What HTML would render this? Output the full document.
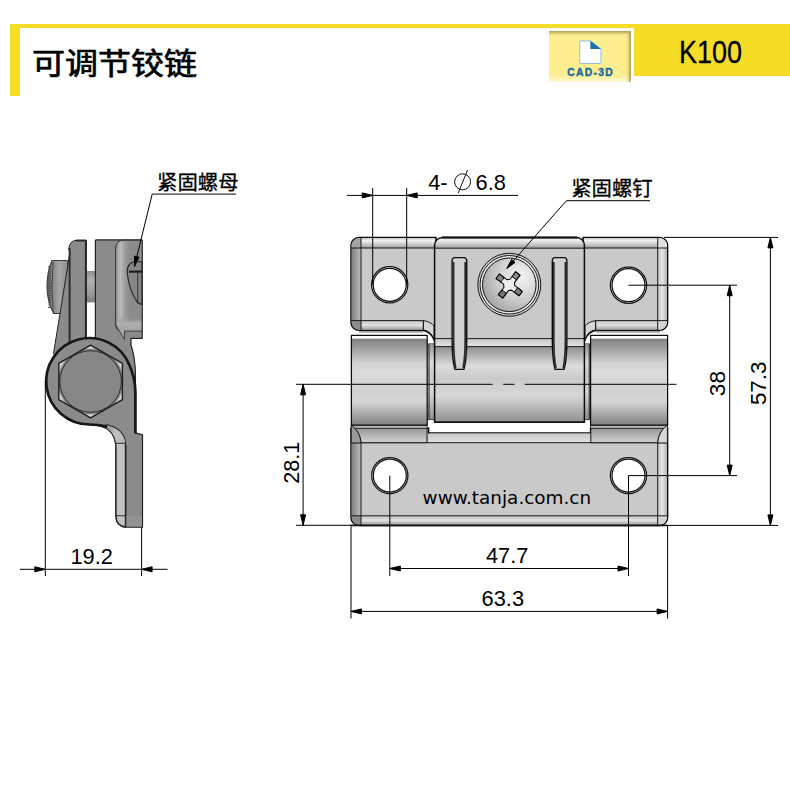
<!DOCTYPE html>
<html lang="zh-CN">
<head>
<meta charset="utf-8">
<title>可调节铰链 K100</title>
<style>
html,body{margin:0;padding:0;background:#fff}
body{width:790px;height:790px;overflow:hidden;position:relative;font-family:"Liberation Sans","Noto Sans CJK SC",sans-serif;color:#000}
.hdr-line{position:absolute;left:10px;top:24px;width:780px;height:4px;background:#f5dc27}
.hdr-bar{position:absolute;left:10px;top:24px;width:9.5px;height:71.5px;background:#f5dc27}
.title{position:absolute;left:32px;top:41.6px;font-size:29.6px;line-height:44px;white-space:nowrap;transform:scaleX(1.115);transform-origin:0 0;-webkit-text-stroke:0.7px #000}
.code{position:absolute;left:634px;top:24px;width:156px;height:52px;background:#f5dc27}
.code span{position:absolute;left:0;right:3px;top:0;text-align:center;font-size:32px;line-height:57px;transform:scaleX(0.845);-webkit-text-stroke:0.3px #000}
.cad{position:absolute;left:549px;top:31px;width:82px;height:51px;background:linear-gradient(to bottom,#fdee8f 0,#fdee8f 86%,#fff9d8 100%);box-shadow:inset -3px 3px 3px -1px rgba(120,110,40,0.62)}
.cad span{position:absolute;left:0;right:0;top:36.6px;text-align:center;font-size:10.3px;line-height:10px;font-weight:bold;color:#1468a6;letter-spacing:1.35px;text-indent:1.3px;-webkit-text-stroke:0.35px #1468a6}
.cad svg{position:absolute;left:29.6px;top:9px}
svg.draw{position:absolute;left:0;top:0}
svg.draw text{font-family:"Liberation Sans","Noto Sans CJK SC",sans-serif;fill:#000}
</style>
</head>
<body>
<div class="hdr-line"></div>
<div class="hdr-bar"></div>
<div class="title">可调节铰链</div>
<div class="cad"><svg width="23" height="24.3" viewBox="0 0 23 25" preserveAspectRatio="none"><path d="M1.7 0.9H11.4L22 9.2V23.2Q22 24.2 21 24.2H1.7Q0.7 24.2 0.7 23.2V1.9Q0.7 0.9 1.7 0.9Z" fill="#fff" stroke="#8fbdd8" stroke-width="1"/><path d="M11.4 0.9L22 9.2H11.4Z" fill="#1a72ad"/></svg><span>CAD-3D</span></div>
<div class="code"><span>K100</span></div>
<svg class="draw" width="790" height="790" viewBox="0 0 790 790">
<defs>
<linearGradient id="gCyl" x1="0" y1="0" x2="0" y2="1">
<stop offset="0" stop-color="#ffffff"/><stop offset="0.028" stop-color="#ffffff"/><stop offset="0.045" stop-color="#828282"/><stop offset="0.12" stop-color="#989898"/><stop offset="0.3" stop-color="#d0d0d0"/><stop offset="0.42" stop-color="#dcdcdc"/><stop offset="0.6" stop-color="#d0d0d0"/><stop offset="0.74" stop-color="#d6d6d6"/><stop offset="0.87" stop-color="#aaaaaa"/><stop offset="1" stop-color="#808080"/>
</linearGradient>
<linearGradient id="gCyl2" x1="0" y1="0" x2="0" y2="1">
<stop offset="0" stop-color="#8e8e8e"/><stop offset="0.25" stop-color="#dcdcdc"/><stop offset="0.42" stop-color="#cacaca"/><stop offset="0.65" stop-color="#d8d8d8"/><stop offset="1" stop-color="#8e8e8e"/>
</linearGradient>
<linearGradient id="gTop" x1="0" y1="0" x2="0" y2="1">
<stop offset="0" stop-color="#c8c8c8"/><stop offset="0.25" stop-color="#f2f2f2"/><stop offset="0.6" stop-color="#cfcfcf"/><stop offset="1" stop-color="#9c9c9c"/>
</linearGradient>
<linearGradient id="gBot" x1="0" y1="0" x2="0" y2="1">
<stop offset="0" stop-color="#c0c0c0"/><stop offset="0.5" stop-color="#e2e2e2"/><stop offset="1" stop-color="#9c9c9c"/>
</linearGradient>
<linearGradient id="gLeft" x1="0" y1="0" x2="1" y2="0">
<stop offset="0" stop-color="#7e7e7e"/><stop offset="1" stop-color="#bdbdbd"/>
</linearGradient>
<linearGradient id="gRight" x1="0" y1="0" x2="1" y2="0">
<stop offset="0" stop-color="#c4c4c4"/><stop offset="0.5" stop-color="#e6e6e6"/><stop offset="1" stop-color="#b0b0b0"/>
</linearGradient>
<linearGradient id="gStep" x1="0" y1="0" x2="0" y2="1">
<stop offset="0" stop-color="#c6c6c6"/><stop offset="1" stop-color="#e4e4e4"/>
</linearGradient>
<linearGradient id="gBand" x1="0" y1="0" x2="0" y2="1">
<stop offset="0" stop-color="#8a8a8a"/><stop offset="1" stop-color="#d2d2d2"/>
</linearGradient>
<radialGradient id="gScrew" cx="0.7" cy="0.35" r="0.9">
<stop offset="0" stop-color="#f6f6f6"/><stop offset="0.45" stop-color="#d0d0d0"/><stop offset="1" stop-color="#8f8f8f"/>
</radialGradient>
<linearGradient id="gHead" x1="0" y1="0" x2="1" y2="0">
<stop offset="0" stop-color="#666"/><stop offset="0.3" stop-color="#8a8a8a"/><stop offset="0.6" stop-color="#a6a6a6"/><stop offset="1" stop-color="#8e8e8e"/>
</linearGradient>
<linearGradient id="gSide" x1="0" y1="0" x2="1" y2="0">
<stop offset="0" stop-color="#9a9a9a"/><stop offset="0.35" stop-color="#c6c6c6"/><stop offset="1" stop-color="#c2c2c2"/>
</linearGradient>
<clipPath id="cpBlock"><path d="M434.6,422.2 V245.4 a8,8 0 0 1 8,-8 H576.4 a8,8 0 0 1 8,8 V422.2 Z"/></clipPath>
<linearGradient id="gShaft" x1="0" y1="0" x2="0" y2="1">
<stop offset="0" stop-color="#8c8c8c"/><stop offset="0.3" stop-color="#b2b2b2"/><stop offset="0.7" stop-color="#9a9a9a"/><stop offset="1" stop-color="#7e7e7e"/>
</linearGradient>
<linearGradient id="gBlk" gradientUnits="userSpaceOnUse" x1="115.6" y1="0" x2="130" y2="0">
<stop offset="0" stop-color="#8e8e8e"/><stop offset="0.34" stop-color="#bcbcbc"/><stop offset="0.66" stop-color="#9c9c9c"/><stop offset="1" stop-color="#8b8b8b"/>
</linearGradient>
<linearGradient id="gBlkB" gradientUnits="userSpaceOnUse" x1="0" y1="316" x2="0" y2="331">
<stop offset="0" stop-color="#8b8b8b" stop-opacity="0"/><stop offset="0.5" stop-color="#b0b0b0"/><stop offset="1" stop-color="#a2a2a2"/>
</linearGradient>
<radialGradient id="gHex" gradientUnits="userSpaceOnUse" cx="90.6" cy="381.5" r="36.4">
<stop offset="0" stop-color="#878787"/><stop offset="0.885" stop-color="#878787"/><stop offset="0.92" stop-color="#d8d8d8"/><stop offset="1" stop-color="#d2d2d2"/>
</radialGradient>
<linearGradient id="gFil" gradientUnits="userSpaceOnUse" x1="102" y1="426" x2="124" y2="440">
<stop offset="0" stop-color="#808080"/><stop offset="0.6" stop-color="#c4c4c4"/><stop offset="1" stop-color="#b8b8b8"/>
</linearGradient>
</defs>
<!-- ================= SIDE VIEW ================= -->
<g id="side" stroke-linejoin="round">
<!-- screw head -->
<path d="M52,260.5 H66.5 Q68,260.5 68,262 V312 Q68,313.5 66.5,313.5 H53.5 Q47,300 47,287 Q47,272 52,260.5 Z" fill="url(#gHead)" stroke="#3a3a3a" stroke-width="1.1"/>
<path d="M49.5,266 V308" stroke="#4a4a4a" stroke-width="2.6" stroke-dasharray="1.2 1.2" fill="none"/>
<path d="M53.2,262 Q50.6,287 53.2,312" stroke="#444" stroke-width="1" fill="none"/>
<!-- screw shaft in gap -->
<rect x="86" y="271" width="10" height="31.4" fill="url(#gShaft)"/>
<!-- wedge + thin plate -->
<path d="M70,252 L53.6,353 L60,370 H86.4 V240.2 H77 Q69.2,240.6 68.8,249 Z" fill="#8b8b8b" stroke="#222" stroke-width="1"/>
<path d="M69.6,248 V352" stroke="#2a2a2a" stroke-width="1.9" fill="none"/>
<path d="M85.8,240.5 V340" stroke="#2a2a2a" stroke-width="1.9" fill="none"/>
<path d="M96,240.5 V340" stroke="#2a2a2a" stroke-width="1.8" fill="none"/>
<path d="M76,240.6 H86 M96,240.4 H142" stroke="#2a2a2a" stroke-width="1.6" fill="none"/>
<!-- right plate -->
<path d="M95.4,240 H142.2 V338.4 H131 V345 Q136,360 135.4,381 V432.3 Q136,434 142.5,434.5 V527.2 H125.5 Q116,526 115.8,516 V448 C115.8,436 110.6,428.5 100,425.8 L89,424.6 L70,400 L95.4,340 Z" fill="#8b8b8b" stroke="#222" stroke-width="1.2"/>
<!-- raised block -->
<path d="M115.6,248 Q116,240.4 124,240.2 H142.2 V331 H122 Q115.8,330.6 115.6,325 Z" fill="url(#gBlk)" stroke="#333" stroke-width="1"/>
<path d="M120,316 H141.2 V330.6 H122 Q118,330 117,326 Z" fill="url(#gBlkB)"/>
<path d="M115.8,325 L124.5,339.5 V331" fill="#a8a8a8" stroke="#333" stroke-width="0.9"/>
<!-- nut window -->
<path d="M142,261.8 H134 Q127,263.5 127.2,272 Q128.5,289 137,302 Q139,304 142,304.4 Z" fill="#858585" stroke="#222" stroke-width="1.1"/>
<path d="M129,271.6 H142" stroke="#1c1c1c" stroke-width="2.2" fill="none"/>
<path d="M137.8,273 V302" stroke="#333" stroke-width="1" fill="none"/>
<!-- lower leaf light strip -->
<path d="M116,448 C116,436.5 111,429 101,426 L107,425 C118,427.5 125.6,434 125.6,446 V527 Q116.2,526 116,516 Z" fill="url(#gSide)" stroke="#262626" stroke-width="1.3"/>
<path d="M102,426.2 L107,425.2 C117,427.5 124.6,433.4 125.2,443.3 H116 C115.4,435 111,429.4 102,426.2 Z" fill="url(#gFil)"/>
<path d="M116,443.3 H125.6 M116,515.8 H125.6" stroke="#2a2a2a" stroke-width="1.1" fill="none"/>
<path d="M125.6,445 V527" stroke="#222" stroke-width="1.5" fill="none"/>
<rect x="126.4" y="516" width="15.6" height="10.6" fill="#939393"/>
<!-- knuckle circle -->
<circle cx="89.4" cy="381.3" r="43.2" fill="#8b8b8b"/>
<path d="M106,426.6 C100,425 95,424.6 89.4,424.5 A43.2,43.2 0 1 1 129.4,365 Q135.2,378 135.4,392 V432.3" fill="none" stroke="#161616" stroke-width="2.7" stroke-linecap="round"/>
<!-- hex nut -->
<polygon points="90.6,345.2 122.4,363.4 122.4,399.6 90.6,417.8 58.8,399.6 58.8,363.4" fill="url(#gHex)" stroke="#1c1c1c" stroke-width="1.4"/>
<circle cx="90.6" cy="381.5" r="30.8" fill="#878787" stroke="#2a2a2a" stroke-width="1"/>
</g>

<!-- ================= FRONT VIEW ================= -->
<g id="front" stroke-linejoin="round">
<!-- bottom leaf -->
<path d="M351,428 V517.4 a8,8 0 0 0 8,8 H659.6 a8,8 0 0 0 8,-8 V428 H590.5 V433 H428.6 V428 Z" fill="#c9c9c9" stroke="#0c0c0c" stroke-width="1.5"/>
<rect x="351.6" y="443" width="9.4" height="73" fill="url(#gLeft)"/>
<rect x="657.7" y="443" width="9.3" height="73" fill="url(#gRight)"/>
<path d="M361,515.8 H657.7 V524.8 H361 Z" fill="url(#gBot)"/>
<path d="M351.6,515.8 H361 V524.8 H359 a7.4,7.4 0 0 1 -7.4,-7.4 Z" fill="#8c8c8c"/>
<path d="M657.7,515.8 H667 V517.4 a7.4,7.4 0 0 1 -7.4,7.4 H657.7 Z" fill="#d4d4d4"/>
<rect x="429" y="433.4" width="161" height="9.3" fill="url(#gStep)"/>
<path d="M351,442.7 H667.6 M351,515.8 H667.6 M361,442.7 V525 M657.7,442.7 V525" stroke="#1a1a1a" stroke-width="1" fill="none"/>
<path d="M351,525.4 H667.6" stroke="#111" stroke-width="1.8" fill="none"/>
<!-- knuckle bands -->
<path d="M351.4,425 H427 V442.7 H361 Q360.5,432 351.4,426 Z" fill="url(#gBand)" stroke="#1a1a1a" stroke-width="1"/>
<path d="M667.4,425 H590.8 V442.7 H657.7 Q658.2,432 667.4,426 Z" fill="url(#gBand)" stroke="#1a1a1a" stroke-width="1"/>
<rect x="352" y="425.4" width="74.6" height="3" fill="#b4b4b4"/>
<rect x="591.2" y="425.4" width="75.8" height="3" fill="#b4b4b4"/>
<path d="M351.4,428.4 H427 M590.8,428.4 H667.4" stroke="#1a1a1a" stroke-width="0.9" fill="none"/>
<path d="M351.2,425 L351.2,443 H361 Q360.5,432 351.2,425 Z" fill="#9a9a9a" stroke="#1a1a1a" stroke-width="1"/>
<path d="M667.4,425 L667.4,443 H657.7 Q658.2,432 667.4,425 Z" fill="#d8d8d8" stroke="#1a1a1a" stroke-width="1"/>
<!-- thin pin area between knuckle and centre block -->
<rect x="427.4" y="343" width="7.4" height="76.5" fill="url(#gCyl2)"/><path d="M429,344 V419.5" stroke="#222" stroke-width="1" fill="none"/><path d="M428,419.6 H435" stroke="#333" stroke-width="0.9" fill="none"/>
<rect x="584.2" y="343" width="6.6" height="76.5" fill="url(#gCyl2)"/><path d="M589.2,344 V419.5" stroke="#222" stroke-width="1" fill="none"/><path d="M584,419.6 H590.6" stroke="#333" stroke-width="0.9" fill="none"/>
<!-- top leaf left -->
<path d="M436,237.4 H359 a8,8 0 0 0 -8,8 V322.3 a8,8 0 0 0 8,8 H422 Q431,331 434.5,341 H436 Z" fill="#c9c9c9" stroke="#0c0c0c" stroke-width="1.5"/>
<rect x="359" y="238" width="76" height="10" fill="url(#gTop)"/>
<path d="M351.6,248 V245.4 a7.4,7.4 0 0 1 7.4,-7.4 H361 V248 Z" fill="#a4a4a4"/>
<rect x="351.6" y="248" width="9.4" height="72.6" fill="url(#gLeft)"/>
<path d="M351.6,320.6 H361 V329.7 H359 a7.4,7.4 0 0 1 -7.4,-7.4 Z" fill="#8c8c8c"/>
<path d="M361,320.6 H423.4 V329.7 H361 Z" fill="url(#gBot)"/>
<path d="M423.4,320.6 Q431,322 434,326 V339 Q431,331 423.4,329.8 Z" fill="#d6d6d6" stroke="#1a1a1a" stroke-width="1"/>
<path d="M351,248 H434.5 M351,320.6 H423.4 M361,237.4 V330.3 M423.4,320.6 V330" stroke="#1a1a1a" stroke-width="1" fill="none"/>
<!-- top leaf right -->
<path d="M583,237.4 H659.6 a8,8 0 0 1 8,8 V322.3 a8,8 0 0 1 -8,8 H597 Q588,331 584.5,341 H583 Z" fill="#c9c9c9" stroke="#0c0c0c" stroke-width="1.5"/>
<rect x="584" y="238" width="75.6" height="10" fill="url(#gTop)"/>
<path d="M667,248 V245.4 a7.4,7.4 0 0 0 -7.4,-7.4 H657.7 V248 Z" fill="#e0e0e0"/>
<rect x="657.7" y="248" width="9.3" height="72.6" fill="url(#gRight)"/>
<path d="M667,320.6 H657.7 V329.7 H659.6 a7.4,7.4 0 0 0 7.4,-7.4 Z" fill="#d4d4d4"/>
<path d="M657.7,320.6 H595.6 V329.7 H657.7 Z" fill="url(#gBot)"/>
<path d="M595.6,320.6 Q588,322 585,326 V339 Q588,331 595.6,329.8 Z" fill="#d6d6d6" stroke="#1a1a1a" stroke-width="1"/>
<path d="M667.6,248 H584.5 M667.6,320.6 H595.6 M657.7,237.4 V330.3 M595.6,320.6 V330" stroke="#1a1a1a" stroke-width="1" fill="none"/>
<!-- shadow under top leaf -->
<rect x="359" y="331" width="64" height="1.8" fill="#a6a6a6"/>
<rect x="596" y="331" width="64" height="1.8" fill="#a6a6a6"/>
<!-- knuckles -->
<rect x="351.4" y="335.4" width="75.8" height="89.8" fill="url(#gCyl)" stroke="#0c0c0c" stroke-width="1.25"/>
<rect x="590.6" y="335.4" width="77" height="89.8" fill="url(#gCyl)" stroke="#0c0c0c" stroke-width="1.25"/>
<!-- centre block -->
<path d="M434.6,422.2 V245.4 a8,8 0 0 1 8,-8 H576.4 a8,8 0 0 1 8,8 V422.2 Z" fill="#c9c9c9"/>
<g clip-path="url(#cpBlock)">
<rect x="434" y="237" width="151" height="11.2" fill="url(#gTop)"/>
<rect x="434" y="338.6" width="151" height="8" fill="url(#gStep)"/>
<rect x="434" y="346.6" width="151" height="76" fill="url(#gCyl2)"/>
<path d="M434.6,248.2 H584.4 M434.6,338.6 H584.4 M434.6,346.6 H584.4" stroke="#1a1a1a" stroke-width="1" fill="none"/>
</g>
<path d="M434.6,422.2 V245.4 a8,8 0 0 1 8,-8 H576.4 a8,8 0 0 1 8,8 V422.2 Z" fill="none" stroke="#0c0c0c" stroke-width="1.5"/>
<path d="M442,237.6 H577" stroke="#111" stroke-width="2" fill="none"/>
<path d="M434.6,422.2 H584.4" stroke="#111" stroke-width="1.6" fill="none"/>
<!-- slots -->
<path d="M452.1,261.5 Q452.1,257.6 454.70000000000005,257.6 H464.1 Q466.70000000000005,257.6 466.70000000000005,261.5 V338 Q466.70000000000005,360 463.90000000000003,369.4 H454.90000000000003 Q452.1,360 452.1,338 Z" fill="#d0d0d0" stroke="#0c0c0c" stroke-width="1.4"/>
<path d="M453.6,262 V338 Q453.6,358 455.70000000000005,368" stroke="#2c2c2c" stroke-width="1.7" fill="none"/>
<path d="M465.20000000000005,262 V338 Q465.20000000000005,358 463.1,368" stroke="#2c2c2c" stroke-width="1.7" fill="none"/>
<path d="M552.3,261.5 Q552.3,257.6 554.9,257.6 H564.3 Q566.9,257.6 566.9,261.5 V338 Q566.9,360 564.1,369.4 H555.0999999999999 Q552.3,360 552.3,338 Z" fill="#d0d0d0" stroke="#0c0c0c" stroke-width="1.4"/>
<path d="M553.8,262 V338 Q553.8,358 555.9,368" stroke="#2c2c2c" stroke-width="1.7" fill="none"/>
<path d="M565.4,262 V338 Q565.4,358 563.3,368" stroke="#2c2c2c" stroke-width="1.7" fill="none"/>
<!-- holes -->
<g fill="#fff" stroke="#111" stroke-width="1.25">
<circle cx="389.7" cy="284.8" r="18.1"/><circle cx="389.7" cy="284.8" r="16.5"/>
<circle cx="628.5" cy="285.2" r="18.1"/><circle cx="628.5" cy="285.2" r="16.5"/>
<circle cx="389.8" cy="475.6" r="18.1"/><circle cx="389.8" cy="475.6" r="16.5"/>
<circle cx="628.5" cy="475.6" r="18.1"/><circle cx="628.5" cy="475.6" r="16.5"/>
</g>
<!-- screw -->
<circle cx="509.3" cy="284.8" r="31.5" fill="#d2d2d2" stroke="#111" stroke-width="1"/>
<circle cx="509.3" cy="284.8" r="29.3" fill="#e8e8e8" stroke="#111" stroke-width="1"/>
<circle cx="509.3" cy="284.8" r="26.8" fill="url(#gScrew)" stroke="#111" stroke-width="1"/>
<g transform="translate(509.2,284.9) rotate(37)">
<path d="M-14.4,-2.8 H-5 L-2.8,-5 V-14.4 H2.8 V-5 L5,-2.8 H14.4 V2.8 H5 L2.8,5 V14.4 H-2.8 V5 L-5,2.8 H-14.4 Z" fill="#eeeeee"/>
<rect x="-14.4" y="-2.8" width="6" height="5.6" fill="#8a8a8a" stroke="#000" stroke-width="0.9"/>
<rect x="8.4" y="-2.8" width="6" height="5.6" fill="#7e7e7e" stroke="#000" stroke-width="0.9"/>
<rect x="-2.8" y="-14.4" width="5.6" height="6" fill="#8c8c8c" stroke="#000" stroke-width="0.9"/>
<rect x="-2.8" y="8.4" width="5.6" height="6" fill="#7a7a7a" stroke="#000" stroke-width="0.9"/>
<path d="M-14.4,-2.8 H-5 L-2.8,-5 V-14.4 H2.8 V-5 L5,-2.8 H14.4 V2.8 H5 L2.8,5 V14.4 H-2.8 V5 L-5,2.8 H-14.4 Z" fill="none" stroke="#0a0a0a" stroke-width="1.1"/>
</g>
</g>

<g stroke="#000" stroke-width="1" fill="#000">
<line x1="45.3" y1="381.0" x2="45.3" y2="576.0" />
<line x1="141.6" y1="527.0" x2="141.6" y2="576.0" />
<line x1="20.0" y1="569.3" x2="167.5" y2="569.3" />
<polygon points="45.3,569.3 34.8,566.8 34.8,571.8"/>
<polygon points="141.6,569.3 152.1,566.8 152.1,571.8"/>
<line x1="372.7" y1="188.0" x2="372.7" y2="284.8" />
<line x1="406.7" y1="188.0" x2="406.7" y2="284.8" />
<line x1="347.0" y1="195.4" x2="518.0" y2="195.4" />
<polygon points="372.7,195.4 362.2,192.9 362.2,197.9"/>
<polygon points="406.7,195.4 417.2,192.9 417.2,197.9"/>
<line x1="664.0" y1="237.4" x2="778.0" y2="237.4" />
<line x1="667.6" y1="525.4" x2="778.0" y2="525.4" />
<line x1="770.4" y1="237.4" x2="770.4" y2="525.4" />
<polygon points="770.4,237.4 767.9,247.9 772.9,247.9"/>
<polygon points="770.4,525.4 767.9,514.9 772.9,514.9"/>
<line x1="628.5" y1="285.2" x2="737.0" y2="285.2" />
<line x1="628.5" y1="475.6" x2="737.0" y2="475.6" />
<line x1="729.7" y1="285.2" x2="729.7" y2="475.6" />
<polygon points="729.7,285.2 727.2,295.7 732.2,295.7"/>
<polygon points="729.7,475.6 727.2,465.1 732.2,465.1"/>
<line x1="296.0" y1="384.3" x2="492.6" y2="384.3" />
<line x1="503.2" y1="384.3" x2="514.5" y2="384.3" />
<line x1="524.8" y1="384.3" x2="676.5" y2="384.3" />
<line x1="296.0" y1="525.3" x2="351.0" y2="525.3" />
<line x1="303.1" y1="384.3" x2="303.1" y2="525.3" />
<polygon points="303.1,384.3 300.6,394.8 305.6,394.8"/>
<polygon points="303.1,525.3 300.6,514.8 305.6,514.8"/>
<line x1="389.8" y1="475.6" x2="389.8" y2="576.0" />
<line x1="628.5" y1="475.6" x2="628.5" y2="576.0" />
<line x1="389.8" y1="568.5" x2="628.5" y2="568.5" />
<polygon points="389.8,568.5 400.3,566.0 400.3,571.0"/>
<polygon points="628.5,568.5 618.0,566.0 618.0,571.0"/>
<line x1="351.0" y1="525.3" x2="351.0" y2="618.5" />
<line x1="667.6" y1="525.3" x2="667.6" y2="618.5" />
<line x1="351.0" y1="611.4" x2="667.6" y2="611.4" />
<polygon points="351.0,611.4 361.5,608.9 361.5,613.9"/>
<polygon points="667.6,611.4 657.1,608.9 657.1,613.9"/>
<line x1="152.2" y1="194.1" x2="236.0" y2="194.1" />
<line x1="152.2" y1="194.1" x2="134.4" y2="266.4" />
<polygon points="134.4,266.4 134.6,256.1 139.0,257.2"/>
<line x1="566.4" y1="200.7" x2="650.0" y2="200.7" />
<line x1="566.4" y1="200.7" x2="506.8" y2="268.4" />
<polygon points="506.8,268.4 511.7,259.4 515.1,262.4"/>
</g>
<g font-size="21.8">
<text x="70.4" y="563.9">19.2</text>
<text x="428.2" y="189.6">4-</text>
<text x="475.6" y="189.6">6.8</text>
<text x="486" y="563.2">47.7</text>
<text x="481.6" y="606.2">63.3</text>
<text transform="translate(299.1,462.7) rotate(-90)" text-anchor="middle" font-size="21.6">28.1</text>
<text transform="translate(725.1,383.6) rotate(-90)" text-anchor="middle" font-size="22.6">38</text>
<text transform="translate(766.1,383.3) rotate(-90)" text-anchor="middle" font-size="22.4">57.3</text>
</g>
<g fill="none" stroke="#111" stroke-width="1"><circle cx="462.6" cy="181.8" r="8"/><line x1="458.2" y1="193" x2="467.6" y2="170"/></g>
<g font-size="20.4" stroke="#000" stroke-width="0.3">
<text x="157" y="189.5">紧固螺母</text>
<text x="571.2" y="196.2">紧固螺钉</text>
</g>
<text x="422.6" y="504.1" font-size="18.4" style="font-family:'DejaVu Sans','Liberation Sans',sans-serif">www.tanja.com.cn</text>
</svg>
</body>
</html>
